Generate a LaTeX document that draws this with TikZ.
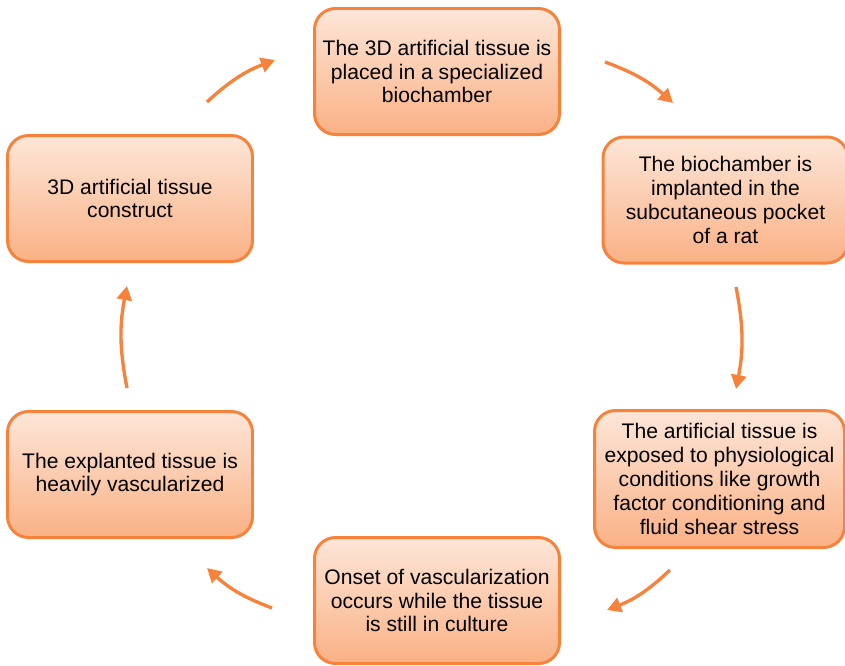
\documentclass[tikz,border=0pt]{standalone}
\usepackage{fontspec}
\setmainfont{Liberation Sans}
\usetikzlibrary{arrows.meta}
\definecolor{naranja}{HTML}{F7823C}
\definecolor{claro}{HTML}{FDE6D8}
\definecolor{oscuro}{HTML}{FAB185}
\begin{document}
\begin{tikzpicture}[
    caja/.style={draw=naranja, line width=1.7pt, rounded corners=0.42cm,
        top color=claro, bottom color=oscuro, align=center,
        minimum width=4.9cm, minimum height=2.52cm, inner sep=2pt,
        font=\fontsize{12}{13.6}\selectfont},
    flecha/.style={draw=naranja, line width=1.9pt, bend left=11,
        -{Triangle[length=8pt,width=8.5pt]}}]
    % Marco del dibujo
    \useasboundingbox (0,0) rectangle (16.9,-13.3);
    % Cajas del ciclo
    \node[caja] (colocado) at (8.74,-1.43) {The 3D artificial tissue is\\placed in a specialized\\biochamber};
    \node[caja] (implantado) at (14.51,-4.0) {The biochamber is\\implanted in the\\subcutaneous pocket\\of a rat};
    \node[caja, minimum width=5.0cm, minimum height=2.74cm] (expuesto) at (14.39,-9.58) {The artificial tissue is\\exposed to physiological\\conditions like growth\\factor conditioning and\\fluid shear stress};
    \node[caja] (inicio) at (8.74,-12.01) {Onset of vascularization\\occurs while the tissue\\is still in culture};
    \node[caja] (explantado) at (2.6,-9.49) {The explanted tissue is\\heavily vascularized};
    \node[caja] (construido) at (2.6,-3.97) {3D artificial tissue\\construct};
    % Extremos de las flechas
    \coordinate (a1) at (4.14,-2.04); \coordinate (b1) at (5.5,-1.2);
    \coordinate (a2) at (12.1,-1.24); \coordinate (b2) at (13.46,-2.06);
    \coordinate (a3) at (14.72,-5.74); \coordinate (b3) at (14.72,-7.78);
    \coordinate (a4) at (13.4,-11.4); \coordinate (b4) at (12.14,-12.2);
    \coordinate (a5) at (5.44,-12.16); \coordinate (b5) at (4.14,-11.36);
    \coordinate (a6) at (2.54,-7.76); \coordinate (b6) at (2.54,-5.72);
    % Flechas entre las cajas
    \draw[flecha] (a1) to (b1);
    \draw[flecha] (a2) to (b2);
    \draw[flecha] (a3) to (b3);
    \draw[flecha] (a4) to (b4);
    \draw[flecha] (a5) to (b5);
    \draw[flecha] (a6) to (b6);
\end{tikzpicture}
\end{document}
